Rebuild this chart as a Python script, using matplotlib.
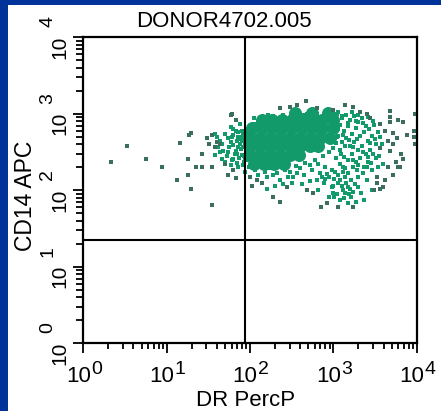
import numpy as np
import matplotlib
matplotlib.use('Agg')
import matplotlib.pyplot as plt
from matplotlib.patches import Rectangle
from matplotlib.transforms import blended_transform_factory, offset_copy

# ---------------- data (log10 units of the measured intensities) ----------------
title = "DONOR4702.005"
x_label = "DR PercP"
y_label = "CD14 APC"
decade_exponents = [0, 1, 2, 3, 4]
gate_dr = 87.0
gate_cd14 = 22.7

# densest core of the population
core_dr_log = [2.54, 2.74, 2.93,
               2.14, 2.26, 2.38, 2.50, 2.62, 2.74, 2.86, 2.99,
               2.02, 2.14, 2.26, 2.38, 2.50, 2.62, 2.74, 2.86, 3.00,
               2.00, 2.12, 2.24, 2.36, 2.48, 2.60, 2.72, 2.84, 2.96,
               2.00, 2.12, 2.24, 2.36, 2.48, 2.60, 2.72, 2.81,
               2.00, 2.12, 2.24, 2.36, 2.48, 2.59,
               2.05, 2.17, 2.29, 2.41]
core_cd14_log = ([3.01] * 3 + [2.915] * 8 + [2.81] * 9 + [2.69] * 9 + [2.575] * 8
                 + [2.46] * 6 + [2.35] * 4)

# events in the moderately dense surroundings
dense_dr_log = [
    1.58, 1.61, 1.64, 1.67, 1.70, 1.74, 1.77, 1.80, 1.77, 1.83, 1.80, 1.86, 1.90, 1.86, 1.83,
    1.90, 1.80, 1.70, 1.77, 1.86, 1.93, 1.64, 1.58, 1.67, 1.74, 1.88, 1.92, 1.94, 1.91, 1.96,
    1.94, 1.98, 1.88, 1.84, 1.85, 1.90, 1.82, 1.78,
    1.80, 1.86, 1.92, 1.96, 1.88, 1.94, 1.97, 1.89, 1.93, 1.97, 1.87, 1.92, 1.84, 1.96, 1.99,
    1.75, 1.72, 1.79, 1.68, 1.62,
    3.05, 3.10, 3.15, 3.20, 3.25, 3.29, 3.34, 3.39, 3.08, 3.13, 3.17, 3.22, 3.27, 3.32, 3.37,
    3.41, 3.46, 3.05, 3.10, 3.15, 3.20, 3.25, 3.29, 3.34, 3.39, 3.44, 3.08, 3.13, 3.17, 3.22,
    3.27, 3.32, 3.37, 3.41, 3.46, 3.51, 3.51, 3.49, 3.53, 3.03, 3.08, 3.14,
    3.36, 3.43, 3.47, 3.50, 3.44, 3.56, 3.58, 3.48, 3.55, 3.42, 3.35, 3.24, 3.19, 3.28, 3.12,
    3.14, 3.09, 3.23, 3.30, 3.40, 3.60, 3.54, 3.45, 3.18, 3.27, 3.10, 3.22, 3.30, 3.41,
    2.06, 2.18, 2.42, 2.60, 2.72, 2.48, 1.94, 2.24, 2.28, 2.36, 2.52, 2.80, 2.84,
    2.10, 2.20, 2.32, 2.45, 2.56, 2.65, 2.72, 2.62, 2.50, 2.40, 2.30, 2.20, 2.90, 2.82, 2.74,
    2.86,
    2.95, 3.01, 3.05, 3.08, 2.98, 3.11, 3.17, 3.14, 3.21, 3.24, 3.27, 3.17, 3.08, 3.01, 2.95,
    3.30, 3.33, 3.37, 2.82, 2.89, 2.98, 3.14, 3.21, 3.30, 3.40, 3.46, 3.11, 3.24,
    3.00, 3.10, 3.20, 3.04, 3.13, 2.99, 3.19, 3.26, 3.15, 3.06, 3.02, 3.12, 3.18, 3.28, 3.35,
    2.92, 2.90,
    2.05, 2.15, 2.28, 2.40, 2.52, 2.63, 2.75, 2.88, 2.98, 2.05, 2.15, 2.30, 2.40, 2.55, 2.66,
    2.78, 2.88, 2.95, 3.03, 3.05, 3.04, 3.03, 3.00,
    2.22, 2.12, 2.06, 2.68, 2.80, 2.92, 3.04]
dense_cd14_log = [
    2.74, 2.70, 2.65, 2.61, 2.74, 2.68, 2.63, 2.59, 2.83, 2.78, 2.72, 2.70, 2.65, 2.57, 2.52,
    2.46, 2.41, 2.37, 2.33, 2.30, 2.37, 2.50, 2.46, 2.41, 2.50, 2.61, 2.57, 2.74, 2.78, 2.50,
    2.41, 2.65, 2.87, 2.65, 2.48, 2.70, 2.48, 2.70,
    2.80, 2.76, 2.72, 2.78, 2.67, 2.62, 2.55, 2.54, 2.45, 2.40, 2.42, 2.33, 2.36, 2.68, 2.30,
    2.56, 2.45, 2.39, 2.52, 2.56,
    3.02, 2.94, 2.99, 2.92, 2.97, 2.89, 2.94, 2.84, 2.86, 2.78, 2.84, 2.73, 2.81, 2.71, 2.76,
    2.65, 2.71, 2.71, 2.63, 2.68, 2.58, 2.63, 2.53, 2.58, 2.47, 2.53, 2.53, 2.44, 2.39, 2.47,
    2.37, 2.42, 2.31, 2.37, 2.26, 2.42, 2.60, 2.86, 2.76, 2.42, 2.34, 2.29,
    2.88, 2.80, 2.90, 2.67, 2.62, 2.70, 2.60, 2.48, 2.45, 2.44, 2.50, 2.56, 2.66, 2.67, 2.72,
    2.58, 2.48, 2.40, 2.33, 2.30, 2.35, 2.30, 2.36, 2.88, 2.91, 2.97, 3.02, 2.99, 2.96,
    2.26, 2.24, 2.26, 2.29, 2.33, 2.24, 2.24, 2.29, 2.20, 2.13, 2.17, 2.13, 2.22,
    2.20, 2.18, 2.23, 2.18, 2.22, 2.20, 2.12, 2.08, 2.10, 2.08, 2.05, 2.02, 2.30, 2.35, 2.27,
    2.18,
    2.17, 2.15, 2.09, 2.13, 2.04, 2.00, 2.04, 1.96, 1.91, 1.98, 1.85, 1.83, 1.87, 1.91, 1.91,
    2.04, 1.96, 1.87, 2.00, 2.09, 2.26, 2.17, 2.13, 2.17, 2.13, 2.00, 2.30, 2.30,
    2.05, 2.06, 2.02, 1.95, 1.90, 1.97, 1.95, 2.08, 2.10, 2.20, 2.24, 2.24, 2.22, 2.26, 2.22,
    2.21, 2.15,
    2.95, 2.93, 2.97, 2.99, 2.98, 2.99, 2.97, 2.96, 2.94, 2.30, 2.31, 2.32, 2.30, 2.32, 2.36,
    2.40, 2.45, 2.50, 2.90, 2.80, 2.70, 2.62, 2.55,
    2.98, 2.89, 2.87, 3.00, 3.00, 3.02, 3.00]

# isolated events
sparse_dr_log = [
    0.33, 0.52, 0.75, 0.94, 1.13, 1.16, 1.26, 1.26, 1.29, 1.27, 1.29, 1.35, 1.42, 1.42, 1.54,
    1.54, 1.48, 1.54, 1.51, 1.58, 1.61, 1.64, 1.74, 1.83, 1.77, 1.83, 1.70, 1.80, 2.02,
    2.36, 2.48, 2.56, 2.67, 2.80, 3.00, 3.14, 3.24, 3.32, 1.78,
    3.68, 3.78, 3.68, 3.84, 3.62, 3.72, 3.88, 3.65, 3.72, 3.56, 3.68, 3.81, 3.84, 3.75, 3.78,
    3.65, 3.72, 3.52, 3.59, 3.49, 3.40, 3.44, 3.56, 3.68, 3.76, 3.80, 3.62, 3.52, 3.56, 3.98,
    3.97, 3.97, 3.98,
    2.68, 2.76, 2.28, 2.36, 2.44, 2.14, 2.08, 2.00,
    3.24, 3.05, 2.92, 2.85]
sparse_cd14_log = [
    2.37, 2.58, 2.41, 2.30, 2.13, 2.62, 2.41, 2.20, 2.02, 2.72, 2.75, 2.30, 2.30, 2.48, 2.30,
    1.81, 2.68, 2.72, 2.61, 2.57, 2.63, 2.61, 2.20, 2.16, 2.99, 2.92, 2.34, 2.27, 2.06,
    3.07, 3.09, 3.11, 3.17, 3.07, 3.05, 3.11, 3.09, 3.02, 3.00,
    3.04, 2.92, 2.89, 2.89, 2.78, 2.75, 2.72, 2.65, 2.61, 2.55, 2.51, 2.48, 2.41, 2.37, 2.30,
    2.30, 2.20, 2.17, 2.04, 2.00, 3.00, 2.94, 2.87, 2.96, 2.68, 2.30, 2.13, 2.09, 2.02, 3.00,
    2.78, 2.70, 2.60,
    2.00, 1.96, 1.91, 1.85, 2.04, 2.09, 2.13, 2.17,
    1.78, 1.78, 1.83, 1.78]

# ---------------- figure ----------------
W, H = 441, 411
green = '#129a6b'
dark = '#3b6e60'
blue = '#003399'

fig = plt.figure(figsize=(W / 100, H / 100), dpi=100, facecolor=blue)
fig.patches.append(Rectangle((8 / W, 0), 1, (H - 5) / H, transform=fig.transFigure,
                             facecolor='white', edgecolor='none', zorder=-5))

ax = fig.add_axes([83.3 / W, (H - 343.3) / H, 333.4 / W, 306 / H])
ax.set_zorder(2)
ax.set_facecolor('white')
ax.set_xscale('log')
ax.set_yscale('log')
ax.set_xlim(1, 1e4)
ax.set_ylim(1, 1e4)

ax.scatter(np.power(10.0, core_dr_log), np.power(10.0, core_cd14_log),
           s=88, marker='o', c=green, linewidths=0, zorder=2)
ax.scatter(np.power(10.0, dense_dr_log), np.power(10.0, dense_cd14_log),
           s=5, marker='s', c=green, linewidths=0, zorder=2)
ax.scatter(np.power(10.0, sparse_dr_log), np.power(10.0, sparse_cd14_log),
           s=5, marker='s', c=dark, linewidths=0, zorder=2)

ax.axvline(gate_dr, color='black', lw=1.5, zorder=3)
ax.axhline(gate_cd14, color='black', lw=1.5, zorder=3)

for sp in ax.spines.values():
    sp.set_linewidth(1.6)
    sp.set_zorder(4)

ax.tick_params(axis='both', which='both', direction='out', top=False, right=False,
               labelbottom=False, labelleft=False, width=1.3, color='black')
ax.tick_params(axis='x', which='major', length=7)
ax.tick_params(axis='x', which='minor', length=4.5)
ax.tick_params(axis='y', which='major', length=7)
ax.tick_params(axis='y', which='minor', length=5)

fam = 'Liberation Sans'
xt = blended_transform_factory(ax.transData, ax.transAxes)
yt = blended_transform_factory(ax.transAxes, ax.transData)
for e in decade_exponents:
    ax.text(10.0 ** e, 0, '10', transform=offset_copy(xt, x=-5, y=-39, units='dots'),
            ha='center', va='baseline', fontsize=16, family=fam, clip_on=False)
    ax.text(10.0 ** e, 0, str(e), transform=offset_copy(xt, x=8, y=-31, units='dots'),
            ha='left', va='baseline', fontsize=14, family=fam, clip_on=False)
    ax.text(0, 10.0 ** e, '10', transform=offset_copy(yt, x=-18, y=2, units='dots'),
            rotation=90, rotation_mode='anchor', ha='right', va='baseline',
            fontsize=15, family=fam, clip_on=False)
    ax.text(0, 10.0 ** e, str(e), transform=offset_copy(yt, x=-31, y=10, units='dots'),
            rotation=90, rotation_mode='anchor', ha='left', va='baseline',
            fontsize=14, family=fam, clip_on=False)

fig.text(223.5 / W, 1 - 27 / H, title, ha='center', va='baseline', fontsize=16, family=fam)
fig.text(245.5 / W, 5 / H, x_label, ha='center', va='baseline', fontsize=16, family=fam)
fig.text(32 / W, (H - 196) / H, y_label, rotation=90, rotation_mode='anchor',
         ha='center', va='baseline', fontsize=16.5, family=fam)

fig.savefig('out.png', dpi=100, facecolor=blue)
